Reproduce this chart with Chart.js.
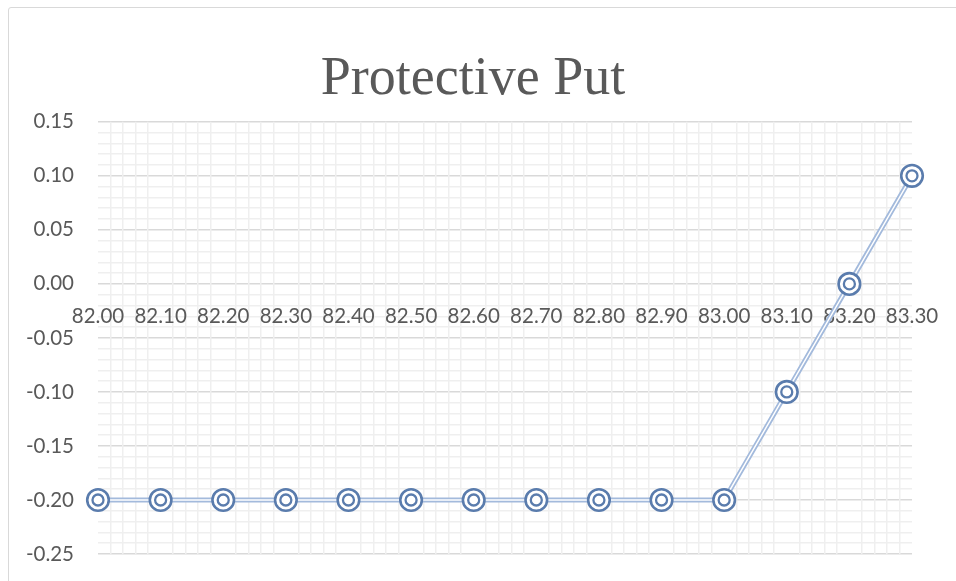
<!DOCTYPE html>
<html>
<head>
<meta charset="utf-8">
<script src="https://cdn.jsdelivr.net/npm/chart.js@4.4.1/dist/chart.umd.min.js"></script>
<style>
  html, body { margin: 0; padding: 0; background: #fff; overflow: hidden; }
  #frame {
    position: absolute; left: 8px; top: 7px; width: 1200px; height: 800px;
    border: 1.5px solid #d9d9d9; border-radius: 3px;
  }
  #wrap { position: absolute; left: 0; top: 0; width: 956px; height: 581px; }
</style>
</head>
<body>
<div id="frame"></div>
<div id="wrap"><canvas id="chart"></canvas></div>
<script>
// stock price at expiry vs. profit of the protective put
const prices = ['82.00', '82.10', '82.20', '82.30', '82.40', '82.50', '82.60',
                '82.70', '82.80', '82.90', '83.00', '83.10', '83.20', '83.30'];
const profit = [-0.20, -0.20, -0.20, -0.20, -0.20, -0.20, -0.20,
                -0.20, -0.20, -0.20, -0.20, -0.10, 0.00, 0.10];
const yTicks = { min: -0.25, max: 0.15, step: 0.05 };

const labelColor = '#595959';
const markerColor = '#5a7cad';
const lineColor = '#a3badc';
const none = 'rgba(0,0,0,0)';

// minor grid: 5 divisions per category and per y step
const xMinorCount = (prices.length - 1) * 5;

const ctx = document.getElementById('chart').getContext('2d');
const myChart = new Chart(ctx, {
    type: 'line',
    data: {
        labels: prices,
        datasets: [
            { // inner ring
                data: profit, showLine: false,
                pointRadius: 5.5, pointBorderWidth: 2.3,
                pointBorderColor: markerColor, pointBackgroundColor: none
            },
            { // outer ring
                data: profit, showLine: false,
                pointRadius: 10.8, pointBorderWidth: 2.6,
                pointBorderColor: markerColor, pointBackgroundColor: '#fff'
            },
            { // white centre of the double line
                data: profit, pointRadius: 0,
                borderColor: '#fff', borderWidth: 1.4, tension: 0
            },
            { // double line outside
                data: profit, pointRadius: 0,
                borderColor: lineColor, borderWidth: 5, tension: 0
            }
        ]
    },
    options: {
        responsive: true,
        maintainAspectRatio: false,
        animation: false,
        events: [],
        layout: { padding: { left: 0, right: 10, top: 0, bottom: 27 } },
        plugins: {
            legend: { display: false },
            tooltip: { enabled: false },
            title: {
                display: true,
                text: 'Protective Put',
                color: labelColor,
                font: { family: '"Liberation Serif", serif', size: 54, weight: 'normal', lineHeight: 1.2 },
                padding: { top: 47, bottom: 10 }
            }
        },
        scales: {
            x: {
                type: 'category',
                offset: false,
                position: { y: 0 },
                // invisible tick marks keep the labels away from the zero line
                grid: { color: none, tickColor: none, drawOnChartArea: false, drawTicks: true, tickLength: 20 },
                border: { display: false },
                ticks: {
                    color: labelColor, autoSkip: false, maxRotation: 0, padding: 0,
                    font: { family: 'Lato', size: 20.5 }
                }
            },
            y: {
                min: yTicks.min, max: yTicks.max,
                z: 0,
                afterFit: (scale) => { scale.width = 98; },
                grid: { color: '#d9d9d9', lineWidth: 1.5, drawTicks: true, tickLength: 24, tickColor: none },
                border: { display: false },
                ticks: {
                    stepSize: yTicks.step, color: labelColor, padding: 0,
                    font: { family: 'Lato', size: 20.5 },
                    callback: (v) => v.toFixed(2)
                }
            },
            yMinor: {
                axis: 'y', type: 'linear', position: 'right',
                min: Math.round(yTicks.min * 100), max: Math.round(yTicks.max * 100),
                z: -1,
                afterFit: (scale) => { scale.width = 34; },
                grid: {
                    drawTicks: false, lineWidth: 1.5,
                    color: (c) => (c.tick && c.tick.value % 5 === 0) ? none : '#efefef'
                },
                border: { display: false },
                ticks: { display: false, stepSize: 1 }
            },
            xMinor: {
                axis: 'x', type: 'linear', position: 'bottom',
                min: 0, max: xMinorCount,
                z: -1,
                grid: {
                    drawTicks: false, lineWidth: 1.5,
                    color: (c) => (c.tick && c.tick.value % 5 === 0) ? none : '#efefef'
                },
                border: { display: false },
                ticks: { display: false, stepSize: 1 }
            }
        }
    }
});
</script>
</body>
</html>
